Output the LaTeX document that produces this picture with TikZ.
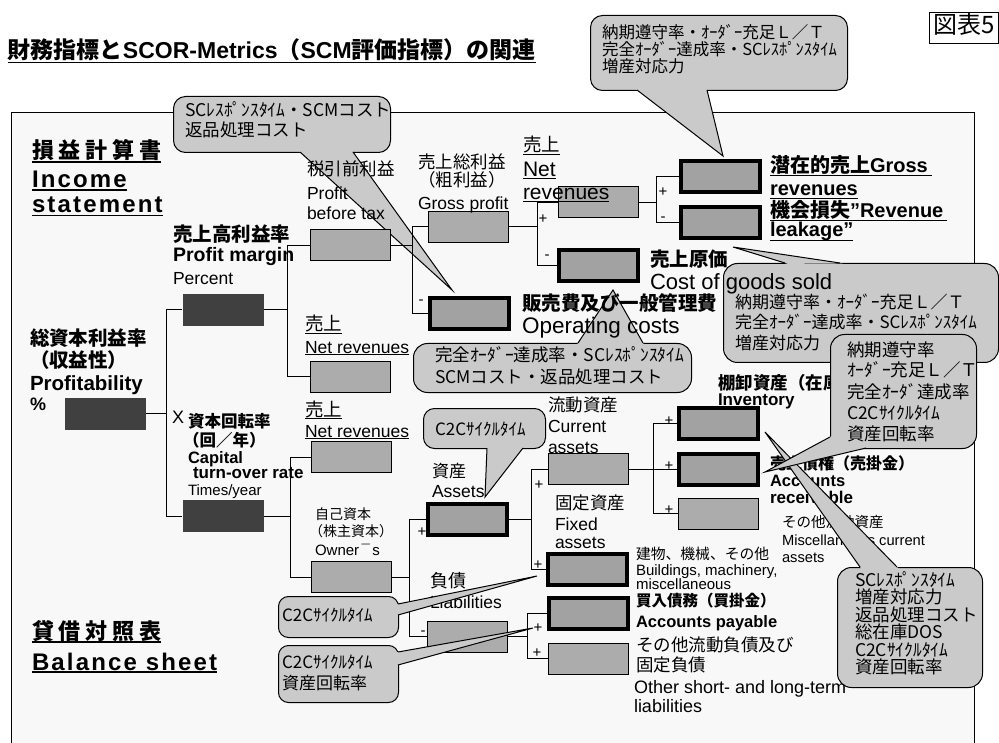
\documentclass[tikz,border=0pt]{standalone}
\usepackage{fontspec}
\setmainfont{Liberation Sans}
\newfontfamily\jp{Noto Sans CJK JP}
\newfontfamily\jpw[LetterSpace=22]{Noto Sans CJK JP}
\newfontfamily\widelat[LetterSpace=9]{Liberation Sans}
\usetikzlibrary{calc}
\definecolor{bgc}{RGB}{248,248,248}
\definecolor{boxg}{RGB}{172,172,172}
\definecolor{boxt}{RGB}{162,162,162}
\definecolor{darkg}{RGB}{64,64,64}
\definecolor{callg}{RGB}{202,202,202}
\newcommand\fsz[1]{\fontsize{#1pt}{#1pt}\selectfont\ignorespaces}
\newcommand\ulx[3]{\leavevmode\setbox0=\hbox{#3}\rlap{\rule[-#1pt]{\wd0}{#2pt}}\box0}
\newcommand\ptr[3]{\fill[callg] ($#1!-3pt!#2$) -- #2 -- ($#3!-3pt!#2$) -- cycle;\draw[line width=1pt] #1 -- #2 -- #3;}
\begin{document}
\begin{tikzpicture}[x=1pt,y=-1pt,
  conn/.style={line width=1pt},
  gbox/.style={draw, line width=1pt, fill=boxg, minimum width=80pt, minimum height=31pt, inner sep=0},
  tbox/.style={draw, line width=4pt, fill=boxt, minimum width=79pt, minimum height=31pt, inner sep=0},
  dbox/.style={fill=darkg, minimum width=81pt, minimum height=32pt, inner sep=0},
  callbox/.style={draw, line width=1pt, fill=callg, rounded corners=12pt, inner sep=0, anchor=north west},
  lbl/.style={inner sep=0, outer sep=0, anchor=base west},
  sign/.style={inner sep=0, font=\fsz{15}}]
\useasboundingbox (0,0) rectangle (999,743);
\fill[white] (0,0) rectangle (999,743);
% frame
\fill[bgc] (11,113) rectangle (974,760);
\draw[line width=1pt] (11,760) -- (11,113) -- (974,113) -- (974,760);
% title
\node[lbl] (title) at (8,58.5) {\fsz{23}\bfseries\ulx{5}{1.8}{{\jp 財務指標と}SCOR-Metrics{\jp （}SCM{\jp 評価指標）の関連}}};
\node[draw, line width=1pt, minimum width=69pt, minimum height=31pt, anchor=north west, inner sep=0] (zuhyo) at (929,12) {};
\node[lbl] (zuhyot) at (933,34) {\fsz{24}\jp 図表5};

% callouts behind
\node[callbox, minimum width=257pt, minimum height=75pt] (c1) at (590,15) {};
\ptr{(637,90)}{(723,156)}{(707,90)}
\foreach \t [count=\i] in {納期遵守率・ｵｰﾀﾞｰ充足Ｌ／Ｔ, 完全ｵｰﾀﾞｰ達成率・SCﾚｽﾎﾟﾝｽﾀｲﾑ, 増産対応力}
  \node[lbl] (c1t\i) at (602,22+17*\i) {\fsz{16.5}\jp \t};

\node[callbox, minimum width=217pt, minimum height=56pt] (c2) at (173,96) {};
\ptr{(300,152)}{(452,290)}{(353,152)}
\foreach \t [count=\i] in {SCﾚｽﾎﾟﾝｽﾀｲﾑ・SCMコスト, 返品処理コスト}
  \node[lbl] (c2t\i) at (185,97+20*\i) {\fsz{17.5}\jp \t};

\node[callbox, minimum width=278pt, minimum height=49pt, rounded corners=14pt] (c3) at (413,343) {};
\ptr{(578,343)}{(613,290)}{(643,343)}
\foreach \t [count=\i] in {完全ｵｰﾀﾞｰ達成率・SCﾚｽﾎﾟﾝｽﾀｲﾑ, SCMコスト・返品処理コスト}
  \node[lbl] (c3t\i) at (435,340+22*\i) {\fsz{17.5}\jp \t};

\node[callbox, minimum width=275pt, minimum height=99pt, rounded corners=14pt] (c4) at (723,263) {};
\ptr{(785,263)}{(733,247)}{(840,263)}
\foreach \t [count=\i] in {納期遵守率・ｵｰﾀﾞｰ充足Ｌ／Ｔ, 完全ｵｰﾀﾞｰ達成率・SCﾚｽﾎﾟﾝｽﾀｲﾑ, 増産対応力}
  \node[lbl] (c4t\i) at (735,289+20*\i) {\fsz{17}\jp \t};

% buses
\coordinate (x1) at (166,0);
\coordinate (x2) at (287,0);
\coordinate (x3) at (412,0);
\coordinate (x4) at (537,0);
\coordinate (x5) at (656,0);
\coordinate (x6) at (290,0);
\coordinate (x7) at (409,0);
\coordinate (x8) at (531,0);
\coordinate (x9) at (527,0);
\coordinate (x10) at (653,0);

% boxes (positions)
\node[dbox] (prof) at (105.5,413.5) {};
\node[dbox] (pm) at (223,310) {};
\node[dbox] (ct) at (223,516) {};
\node[gbox] (pbt) at (350.5,245.5) {};
\node[gbox] (nr1) at (350.5,377) {};
\node[gbox] (gp) at (468,227) {};
\node[tbox] (oc) at (469.5,314) {};
\node[gbox] (nrt) at (598,202.5) {};
\node[tbox] (cogs) at (598,266) {};
\node[tbox] (gr) at (720,176.5) {};
\node[tbox] (rl) at (720,222.5) {};
\node[gbox] (nr2) at (351.5,457) {};
\node[gbox] (oe) at (351.5,577) {};
\node[tbox] (as) at (467.5,519) {};
\node[gbox] (li) at (467.5,636.5) {};
\node[gbox] (ca) at (588,469) {};
\node[tbox] (fa) at (587.5,569.5) {};
\node[tbox] (ap) at (588,613) {};
\node[gbox] (ol) at (588.5,658.5) {};
\node[tbox] (inv) at (718,423.5) {};
\node[tbox] (ar) at (718,469) {};
\node[gbox] (misc) at (718.5,513.5) {};

% connectors
\draw[conn] (prof.east) -- (prof.east -| x1);
\draw[conn] (pm.west) -- (pm.west -| x1) -- (ct.west -| x1) -- (ct.west);
\draw[conn] (pm.east) -- (pm.east -| x2);
\draw[conn] (pbt.west) -- (pbt.west -| x2) -- (nr1.west -| x2) -- (nr1.west);
\draw[conn] (pbt.east) -- (pbt.east -| x3);
\draw[conn] (gp.west) -- (gp.west -| x3) -- (oc.west -| x3) -- (oc.west);
\draw[conn] (gp.east) -- (gp.east -| x4);
\draw[conn] (nrt.west) -- (nrt.west -| x4) -- (cogs.west -| x4) -- (cogs.west);
\draw[conn] (nrt.east) -- (nrt.east -| x5);
\draw[conn] (gr.west) -- (gr.west -| x5) -- (rl.west -| x5) -- (rl.west);
\draw[conn] (ct.east) -- (ct.east -| x6);
\draw[conn] (nr2.west) -- (nr2.west -| x6) -- (oe.west -| x6) -- (oe.west);
\draw[conn] (oe.east) -- (oe.east -| x7);
\draw[conn] (as.west) -- (as.west -| x7) -- (li.west -| x7) -- (li.west);
\draw[conn] (as.east) -- (as.east -| x8);
\draw[conn] (ca.west) -- (ca.west -| x8) -- (fa.west -| x8) -- (fa.west);
\draw[conn] (li.east) -- (li.east -| x9);
\draw[conn] (ap.west) -- (ap.west -| x9) -- (ol.west -| x9) -- (ol.west);
\draw[conn] (ca.east) -- (ar.west);
\draw[conn] (inv.west) -- (inv.west -| x10) -- (misc.west -| x10) -- (misc.west);
% redraw boxes over connectors
\node[dbox] at (prof) {};
\node[dbox] at (pm) {};
\node[dbox] at (ct) {};
\foreach \b in {pbt,nr1,gp,nrt,nr2,oe,li,ca,ol,misc} \node[gbox] at (\b) {};
\foreach \b in {oc,cogs,gr,rl,as,fa,ap,inv,ar} \node[tbox] at (\b) {};

% signs
\node[sign] (s1) at (543,219) {+};
\node[sign] (s2) at (547,257) {-};
\node[sign] (s3) at (663,192) {+};
\node[sign] (s4) at (663,219) {-};
\node[sign] (s5) at (421,302) {-};
\node[sign] (s6) at (422,532) {+};
\node[sign] (s7) at (423,633) {-};
\node[sign] (s8) at (539,485) {+};
\node[sign] (s9) at (538,565) {+};
\node[sign] (s10) at (538,628) {+};
\node[sign] (s11) at (537,653) {+};
\node[sign] (s12) at (669,421) {+};
\node[sign] (s13) at (669,466) {+};
\node[sign] (s14) at (669,510) {+};

% headings
\node[lbl] (h1) at (32,159) {\fsz{22}\jpw\bfseries\ulx{4}{1.8}{損益計算書}};
\node[lbl] (h2) at (32,188) {\fsz{24}\widelat\bfseries\ulx{3}{1.8}{Income}};
\node[lbl] (h3) at (32,213) {\fsz{24}\widelat\bfseries\ulx{3.5}{1.8}{statement}};
\node[lbl] (h4) at (32,639) {\fsz{22}\jpw\bfseries\ulx{4}{1.8}{貸借対照表}};
\node[lbl] (h5) at (32,670) {\fsz{24}\widelat\bfseries\ulx{3}{1.8}{Balance sheet}};

% labels
\node[lbl] (l1) at (30,346) {\fsz{19.5}\jp\bfseries 総資本利益率};
\node[lbl] (l2) at (30,367) {\fsz{19.5}\jp\bfseries （収益性）};
\node[lbl] (l3) at (30,390) {\fsz{20.5}\bfseries Profitability};
\node[lbl] (l4) at (30,410) {\fsz{18}\bfseries \%};
\node[lbl] (l5) at (173,242) {\fsz{19.5}\jp\bfseries 売上高利益率};
\node[lbl] (l6) at (173,262) {\fsz{19.5}\bfseries Profit margin};
\node[lbl] (l7) at (173,285) {\fsz{17.5}Percent};
\node[lbl] (l8) at (172,423) {\fsz{18}X};
\node[lbl] (l9) at (188,427) {\fsz{16.5}\jp\bfseries 資本回転率};
\node[lbl] (l10) at (183,446) {\fsz{16.5}\jp\bfseries （回／年）};
\node[lbl] (l11) at (188,463) {\fsz{16.5}\bfseries Capital};
\node[lbl] (l12) at (193,478) {\fsz{17}\bfseries turn-over rate};
\node[lbl] (l13) at (188,495) {\fsz{15}Times/year};
\node[lbl] (l14) at (307,176) {\fsz{17.5}\jp 税引前利益};
\node[lbl] (l15) at (307,200) {\fsz{17.5}Profit};
\node[lbl] (l16) at (307,220) {\fsz{17.5}before tax};
\node[lbl] (l17) at (418,169) {\fsz{17.5}\jp 売上総利益};
\node[lbl] (l18) at (418,187) {\fsz{17.5}\jp （粗利益）};
\node[lbl] (l19) at (418,210) {\fsz{17.5}Gross profit};
\node[lbl] (l20) at (523,152) {\fsz{18.5}\jp\ulx{3}{1}{売上}};
\node[lbl] (l21) at (523,177) {\fsz{21}\ulx{2}{1}{Net}};
\node[lbl] (l22) at (523,200) {\fsz{21}\ulx{2.5}{1}{revenues}};
\node[lbl] (l23) at (305,331) {\fsz{18.5}\jp\ulx{3}{1}{売上}};
\node[lbl] (l24) at (305,353) {\fsz{17.5}\ulx{2}{1}{Net revenues}};
\node[lbl] (l25) at (305,416) {\fsz{18.5}\jp\ulx{3}{1}{売上}};
\node[lbl] (l26) at (305,437) {\fsz{17.5}\ulx{2}{1}{Net revenues}};
\node[lbl] (l27) at (770,173) {\fsz{20}\bfseries\ulx{3}{1.3}{{\jp 潜在的売上}Gross\hspace{4pt}}};
\node[lbl] (l28) at (770,196) {\fsz{20}\bfseries\ulx{3}{1.3}{revenues}};
\node[lbl] (l29) at (770,218) {\fsz{20}\bfseries\ulx{3}{1.3}{{\jp 機会損失}"Revenue\hspace{4pt}}};
\node[lbl] (l30) at (770,237) {\fsz{20}\bfseries\ulx{4}{1.3}{leakage"}};
\node[lbl] (l31) at (650,267) {\fsz{19.5}\jp\bfseries 売上原価};
\node[lbl] (l32) at (650,290) {\fsz{22}Cost of goods sold};
\node[lbl] (l33) at (522,311) {\fsz{19.5}\jp\bfseries 販売費及び一般管理費};
\node[lbl] (l34) at (522,334) {\fsz{22.5}Operating costs};
\node[lbl] (l35) at (548,411) {\fsz{17.5}\jp 流動資産};
\node[lbl] (l36) at (548,432) {\fsz{17.5}Current};
\node[lbl] (l37) at (548,453) {\fsz{17.5}assets};
\node[lbl] (l38) at (432,477) {\fsz{17}\jp 資産};
\node[lbl] (l39) at (432,497) {\fsz{17.5}Assets};
\node[lbl] (l40) at (555,509) {\fsz{17.5}\jp 固定資産};
\node[lbl] (l41) at (555,530) {\fsz{17.5}Fixed};
\node[lbl] (l42) at (555,548) {\fsz{17.5}assets};
\node[lbl] (l43) at (315,519) {\fsz{14}\jp 自己資本};
\node[lbl] (l44) at (309,536) {\fsz{14}\jp （株主資本）};
\node[lbl] (l45) at (315,555) {\fsz{15}Owner\,¯\,s};
\node[lbl] (l46) at (430,587) {\fsz{18}\jp 負債};
\node[lbl] (l47) at (430,608) {\fsz{17.5}Liabilities};
\node[lbl] (l48) at (718,389) {\fsz{17.5}\jp\bfseries 棚卸資産（在庫）};
\node[lbl] (l49) at (718,405) {\fsz{17}\bfseries Inventory};
\node[lbl] (l50) at (770,469) {\fsz{16}\jp\bfseries 売上債権（売掛金）};
\node[lbl] (l51) at (770,486) {\fsz{16.5}\bfseries Accounts};
\node[lbl] (l52) at (770,503) {\fsz{17}\bfseries receivable};
\node[lbl] (l53) at (782,527) {\fsz{14.5}\jp その他流動資産};
\node[lbl] (l54) at (782,545) {\fsz{14.7}Miscellaneous current};
\node[lbl] (l55) at (782,562) {\fsz{14.7}assets};
\node[lbl] (l56) at (636,559) {\fsz{14.8}\jp 建物、機械、その他};
\node[lbl] (l57) at (636,575) {\fsz{15}Buildings, machinery,};
\node[lbl] (l58) at (636,589) {\fsz{15}miscellaneous};
\node[lbl] (l59) at (636,606) {\fsz{15.5}\jp\bfseries 買入債務（買掛金）};
\node[lbl] (l60) at (636,627) {\fsz{16.5}\bfseries Accounts payable};
\node[lbl] (l61) at (636,651) {\fsz{17.5}\jp その他流動負債及び};
\node[lbl] (l62) at (636,671) {\fsz{17.5}\jp 固定負債};
\node[lbl] (l63) at (634,693) {\fsz{18}Other short- and long-term};
\node[lbl] (l64) at (634,712) {\fsz{18}liabilities};

% callouts on top
\node[callbox, minimum width=122pt, minimum height=40pt, rounded corners=11pt] (c7) at (423,408) {};
\ptr{(487,448)}{(485,497)}{(523,448)}
\node[lbl] (c7t) at (435,435) {\fsz{17}\jp C2Cｻｲｸﾙﾀｲﾑ};

\node[callbox, minimum width=120pt, minimum height=41pt, rounded corners=10pt] (c8) at (278,596) {};
\ptr{(398,604)}{(537,576)}{(398,615)}
\node[lbl] (c8t) at (282,621) {\fsz{17}\jp C2Cｻｲｸﾙﾀｲﾑ};

\node[callbox, minimum width=120pt, minimum height=57pt, rounded corners=10pt] (c9) at (278,645) {};
\ptr{(398,652)}{(533,628)}{(398,665)}
\node[lbl] (c9t1) at (282,668) {\fsz{17}\jp C2Cｻｲｸﾙﾀｲﾑ};
\node[lbl] (c9t2) at (282,689) {\fsz{17}\jp 資産回転率};

\node[callbox, minimum width=145pt, minimum height=120pt, rounded corners=14pt] (c6) at (837,567) {};
\ptr{(860,567)}{(765,432)}{(897,567)}
\foreach \t [count=\i] in {SCﾚｽﾎﾟﾝｽﾀｲﾑ, 増産対応力, 返品処理コスト, 総在庫DOS, C2Cｻｲｸﾙﾀｲﾑ, 資産回転率}
  \node[lbl] (c6t\i) at (855,568.5+17.5*\i) {\fsz{17.5}\jp \t};

\node[callbox, minimum width=146pt, minimum height=114pt, rounded corners=14pt] (c5) at (830,334) {};
\ptr{(830,437)}{(765,472)}{(866,448)}
\foreach \t [count=\i] in {納期遵守率, ｵｰﾀﾞｰ充足Ｌ／Ｔ, 完全ｵｰﾀﾞ達成率, C2Cｻｲｸﾙﾀｲﾑ, 資産回転率}
  \node[lbl] (c5t\i) at (847,335+21*\i) {\fsz{17.5}\jp \t};
\end{tikzpicture}
\end{document}
